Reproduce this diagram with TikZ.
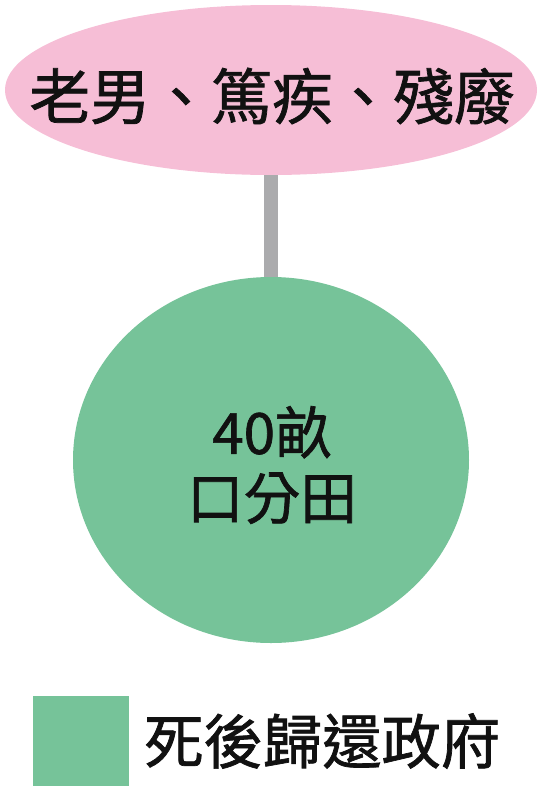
\documentclass[tikz,border=0pt]{standalone}
\usepackage{fontspec}
\usetikzlibrary{positioning,shapes.geometric}
\newfontfamily\cjk[FakeBold=1.2]{Noto Sans CJK TC}
\definecolor{ink}{HTML}{111111}
\definecolor{rose}{HTML}{F6BED6}
\definecolor{leaf}{HTML}{76C399}
\definecolor{stemgray}{HTML}{ABABAD}
\tikzset{
  basenode/.style={inner sep=0pt,text=ink,align=center},
  tagbox/.style={basenode,ellipse,fill=rose,minimum width=399pt,minimum height=127.5pt},
  landbox/.style={basenode,ellipse,fill=leaf,minimum width=297pt,minimum height=274.5pt},
  keybox/.style={basenode,fill=leaf,minimum width=72pt,minimum height=67.5pt},
  stem/.style={line width=10.5pt,draw=stemgray}
}

\begin{document}
\begin{tikzpicture}[x=0.75pt,y=-0.75pt]
    \useasboundingbox (0,0) rectangle (539,793);
    \node[tagbox] (tag) at (271,90) {};
    \node[basenode,font=\cjk\fontsize{45.5}{50}\selectfont] (tagtext) at (272,96) {老男、篤疾、殘廢};
    \node[landbox] (land) at (271,460) {};
    \node[basenode,font=\cjk\fontsize{42.5}{49}\selectfont] (landtext) at (272,465) {40畝\\口分田};
    \draw[stem] (tag.south) -- (land.north);
    \node[keybox] (key) at (81,741) {};
    \node[basenode,anchor=west,font=\cjk\fontsize{44.5}{50}\selectfont,right=11pt of key] (keytext) {死後歸還政府};
  \end{tikzpicture}
\end{document}
